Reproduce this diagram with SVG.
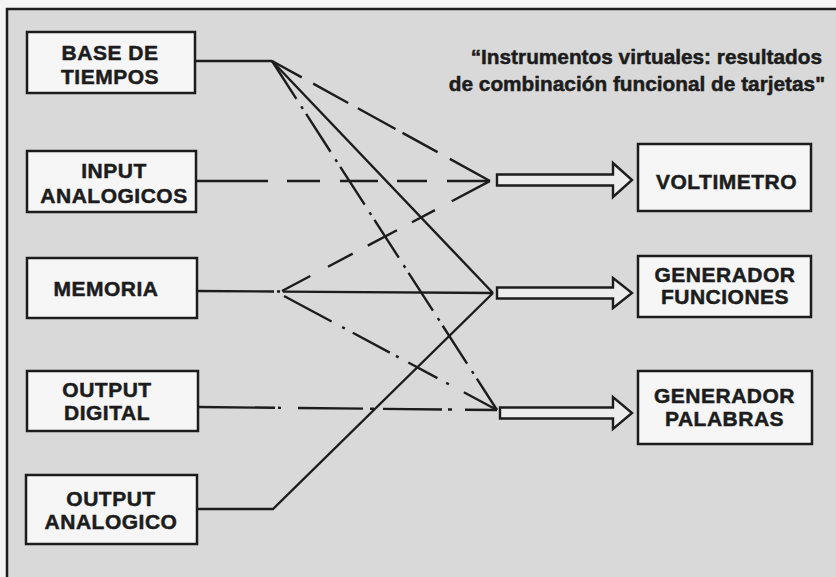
<svg xmlns="http://www.w3.org/2000/svg" width="836" height="577" viewBox="0 0 836 577">
<style>
.bg{fill:#d9d9d9}
.box{fill:#f6f6f6;stroke:#1c1c1c;stroke-width:2.5}
.lbl{font-family:"Liberation Sans",Arial,Helvetica,sans-serif;font-weight:bold;font-size:21px;fill:#1c1c1c;stroke:#1c1c1c;stroke-width:0.5;text-anchor:middle;letter-spacing:0.5px}
.title{font-family:"Liberation Sans",Arial,Helvetica,sans-serif;font-weight:bold;font-size:20.8px;fill:#1c1c1c;stroke:#1c1c1c;stroke-width:0.5;text-anchor:end}
.ln{fill:none;stroke:#1c1c1c;stroke-width:2.4;stroke-linecap:butt;stroke-linejoin:miter}
.dashdot{stroke-dasharray:45 9 3 6}
.arrow{fill:#ececec;stroke:#1c1c1c;stroke-width:2.4;stroke-linejoin:miter}
</style>
<rect x="0" y="0" width="836" height="577" fill="#f4f4f4"/>
<rect class="bg" x="7" y="9" width="829" height="568"/>
<path d="M7,577 V9 H836" fill="none" stroke="#1c1c1c" stroke-width="2.5"/>
<g id="title">
<text class="title" x="822" y="63.5">“Instrumentos virtuales: resultados</text>
<text class="title" x="825" y="91">de combinación funcional de tarjetas"</text>
</g>
<g id="connectors">
<line class="ln" x1="195" y1="61" x2="272" y2="61"/>
<line class="ln" x1="272" y1="61" x2="490" y2="181" stroke-dasharray="34 13 40 11 43 8 40 14 46"/>
<line class="ln" x1="272" y1="61" x2="493" y2="293"/>
<line class="ln dashdot" x1="272" y1="61" x2="497" y2="410"/>
<line class="ln" x1="196" y1="181" x2="490" y2="181" stroke-dasharray="72 19 33 20 38 19 30 20 43"/>
<line class="ln" x1="197" y1="291" x2="493" y2="293" stroke-dasharray="77 3 3 3 300"/>
<line class="ln" x1="282" y1="291" x2="490" y2="181" stroke-dasharray="32 20 28 17 33 17 26 19 43"/>
<line class="ln" x1="284" y1="296" x2="497" y2="410" stroke-dasharray="54 12 3 9 42 7 3 11 33 10 3 17 60"/>
<line class="ln" x1="198" y1="407" x2="497" y2="410" stroke-dasharray="77 3 3 17 65 7 4 9 59 6 4 13 40"/>
<polyline class="ln" points="197,509 273,509 493,293"/>
</g>
<g id="arrows">
<polygon class="arrow" points="497,174.5 613,174.5 613,163 632,180 613,197 613,185.5 497,185.5"/>
<polygon class="arrow" points="497,287.5 613,287.5 613,278 632,293 613,308 613,298.5 497,298.5"/>
<polygon class="arrow" points="500,407.5 613,407.5 613,397 632,413 613,429 613,418.5 500,418.5"/>
</g>
<g id="base-de-tiempos">
<rect class="box" x="27" y="32" width="168" height="61"/>
<text class="lbl" x="110" y="60">BASE DE</text>
<text class="lbl" x="110" y="83.5">TIEMPOS</text>
</g>
<g id="input-analogicos">
<rect class="box" x="27" y="151" width="169" height="61"/>
<text class="lbl" x="114" y="178">INPUT</text>
<text class="lbl" x="114" y="202.5">ANALOGICOS</text>
</g>
<g id="memoria">
<rect class="box" x="27" y="258" width="170" height="60"/>
<text class="lbl" x="106" y="296">MEMORIA</text>
</g>
<g id="output-digital">
<rect class="box" x="27" y="371" width="171" height="60"/>
<text class="lbl" x="107" y="396.5">OUTPUT</text>
<text class="lbl" x="107" y="419.5">DIGITAL</text>
</g>
<g id="output-analogico">
<rect class="box" x="26" y="475" width="171" height="69"/>
<text class="lbl" x="111" y="505.5">OUTPUT</text>
<text class="lbl" x="111" y="528.5">ANALOGICO</text>
</g>
<g id="voltimetro">
<rect class="box" x="638" y="144" width="173" height="67"/>
<text class="lbl" x="726.5" y="189">VOLTIMETRO</text>
</g>
<g id="generador-funciones">
<rect class="box" x="638" y="256" width="173" height="61"/>
<text class="lbl" x="725" y="282">GENERADOR</text>
<text class="lbl" x="725" y="304">FUNCIONES</text>
</g>
<g id="generador-palabras">
<rect class="box" x="638" y="371" width="174" height="73"/>
<text class="lbl" x="724.5" y="403">GENERADOR</text>
<text class="lbl" x="724.5" y="426">PALABRAS</text>
</g>
</svg>
